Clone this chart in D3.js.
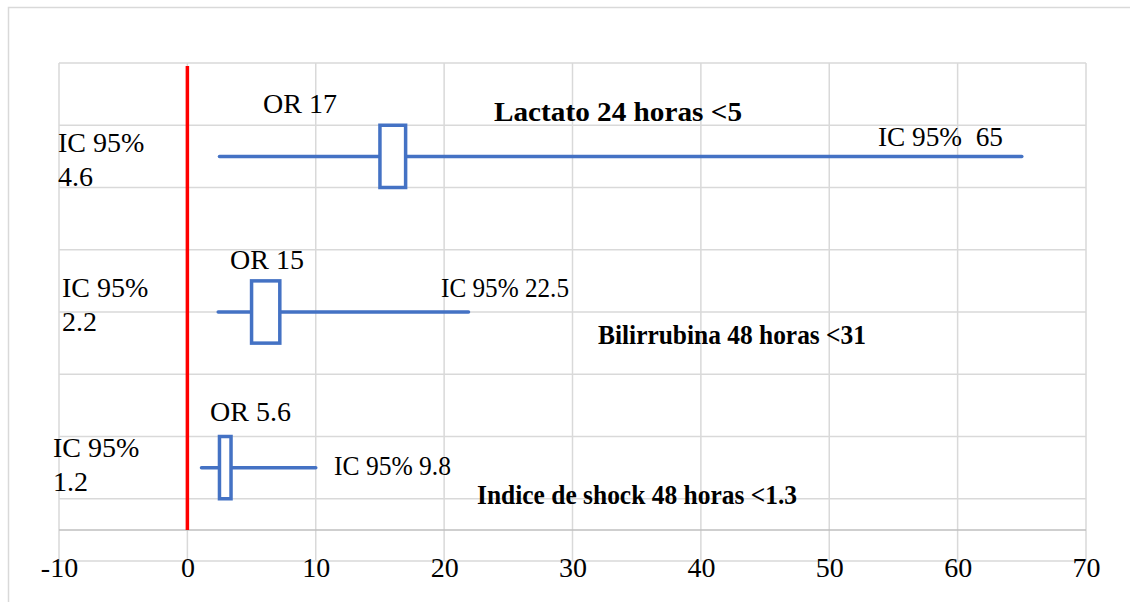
<!DOCTYPE html>
<html>
<head>
<meta charset="utf-8">
<script src="https://cdn.jsdelivr.net/npm/d3@7"></script>
<style>
  body { margin: 0; background: #fff; }
</style>
</head>
<body>
<svg id="chart" width="1130" height="602"></svg>
<script>
// datos del forest plot
var names = ['Lactato 24 horas <5', 'Bilirrubina 48 horas <31', 'Indice de shock 48 horas <1.3'];
var rowY = [6, 3.5, 1];
var ciLow = [2.5, 2.4, 1.1];
var ciHigh = [65, 21.9, 10];
var boxLow = [15, 5, 2.5];
var boxHigh = [17, 7.2, 3.4];
var orLabels = ['OR 17', 'OR 15', 'OR 5.6'];
var lowLabels = ['4.6', '2.2', '1.2'];
var highLabels = ['IC 95%  65', 'IC 95% 22.5', 'IC 95% 9.8'];
var xTicks = [-10, 0, 10, 20, 30, 40, 50, 60, 70];
var yGrid = [-0.5, 0.5, 1.5, 2.5, 3.5, 4.5, 5.5, 6.5, 7.5];

var FONT = '"Liberation Serif", "Times New Roman", Tinos, serif';

var svg = d3.select('#chart');

// borde exterior
svg.append('rect')
  .attr('x', 8.5).attr('y', 7.5)
  .attr('width', 1140).attr('height', 620)
  .attr('fill', 'none').attr('stroke', '#d9d9d9').attr('stroke-width', 1.5);

var x = d3.scaleLinear().domain([-10, 70]).range([59, 1086]);
var y = d3.scaleLinear().domain([-0.5, 7.5]).range([561, 63]);

// grilla vertical
svg.append('g').selectAll('line').data(xTicks).enter().append('line')
  .attr('x1', function(d) { return x(d); }).attr('x2', function(d) { return x(d); })
  .attr('y1', y(7.5)).attr('y2', y(-0.5))
  .attr('stroke', '#d9d9d9').attr('stroke-width', 1.5);

// grilla horizontal
svg.append('g').selectAll('line').data(yGrid).enter().append('line')
  .attr('x1', x(-10)).attr('x2', x(70))
  .attr('y1', function(d) { return y(d); }).attr('y2', function(d) { return y(d); })
  .attr('stroke', '#d9d9d9').attr('stroke-width', 1.5);

// eje x (y = 0)
svg.append('line')
  .attr('x1', x(-10)).attr('x2', x(70))
  .attr('y1', y(0)).attr('y2', y(0))
  .attr('stroke', '#bfbfbf').attr('stroke-width', 1.5);

// etiquetas del eje
var xAxis = d3.axisBottom(x).tickValues(xTicks).tickSize(0).tickPadding(0)
  .tickFormat(function(d) { return String(d); });
var gx = svg.append('g')
  .attr('transform', 'translate(0,' + y(-0.5) + ')')
  .call(xAxis);
gx.select('.domain').remove();
gx.selectAll('text')
  .attr('dy', null).attr('y', 16)
  .style('font-family', FONT)
  .style('font-size', '28px')
  .attr('fill', '#000');

// linea roja en 0
svg.append('line')
  .attr('x1', x(0)).attr('x2', x(0))
  .attr('y1', y(7.45)).attr('y2', y(0))
  .attr('stroke', '#ff0000').attr('stroke-width', 3.5);

var rows = d3.range(names.length);

// bigotes
svg.append('g').selectAll('line').data(rows).enter().append('line')
  .attr('x1', function(i) { return x(ciLow[i]); })
  .attr('x2', function(i) { return x(ciHigh[i]); })
  .attr('y1', function(i) { return y(rowY[i]); })
  .attr('y2', function(i) { return y(rowY[i]); })
  .attr('stroke', '#4472c4').attr('stroke-width', 3.5)
  .attr('stroke-linecap', 'round');

// cajas
svg.append('g').selectAll('rect').data(rows).enter().append('rect')
  .attr('x', function(i) { return x(boxLow[i]); })
  .attr('y', function(i) { return y(rowY[i] + 0.5); })
  .attr('width', function(i) { return x(boxHigh[i]) - x(boxLow[i]); })
  .attr('height', function(i) { return y(rowY[i] - 0.5) - y(rowY[i] + 0.5); })
  .attr('fill', '#fff').attr('stroke', '#4472c4').attr('stroke-width', 3.5);

// textos
var lowPos = [[58, 152], [62, 297], [53, 457]];
var orPos = [[263, 113], [230, 269], [210, 421]];
var highPos = [[878, 146], [441, 297], [334, 475]];
var highLen = [125, 128, 117];
var namePos = [[494, 121], [598, 344], [477, 504]];
var nameLen = [248, 268, 320];

function addText(t, p, bold, len) {
  var el = svg.append('text')
    .attr('x', p[0]).attr('y', p[1])
    .style('font-family', FONT)
    .style('font-size', '28px')
    .style('white-space', 'pre')
    .style('font-weight', bold ? 'bold' : 'normal')
    .attr('fill', '#000')
    .text(t);
  if (len) el.attr('textLength', len).attr('lengthAdjust', 'spacingAndGlyphs');
}

rows.forEach(function(i) {
  addText('IC 95%', lowPos[i], false);
  addText(lowLabels[i], [lowPos[i][0], lowPos[i][1] + 34], false);
  addText(orLabels[i], orPos[i], false);
  addText(highLabels[i], highPos[i], false, highLen[i]);
  addText(names[i], namePos[i], true, nameLen[i]);
});
</script>
</body>
</html>
